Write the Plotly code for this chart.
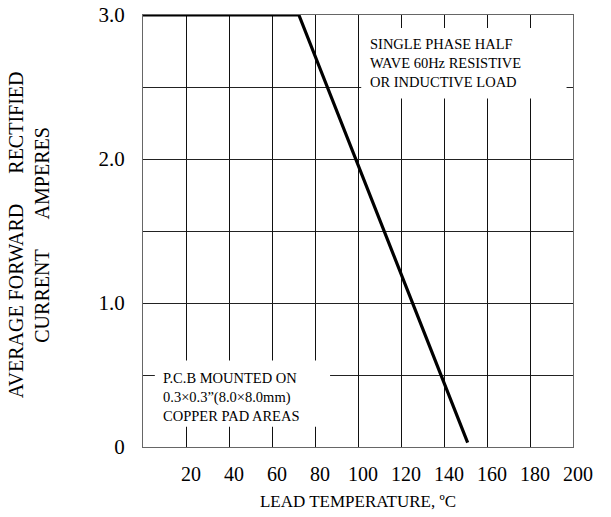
import plotly.graph_objects as go

# Data
lead_temp_c = [0, 72.5, 151]
avg_current_a = [3.0, 3.0, 0.03]

x_tick_vals = [20, 40, 60, 80, 100, 120, 140, 160, 180, 200]
x_tick_text = ["20", "40", "60", "80", "100", "120", "140", "160", "180", "200"]
y_tick_vals = [0, 1, 2, 3]
y_tick_text = ["0", "1.0", "2.0", "3.0"]

note_top = "SINGLE PHASE HALF<br>WAVE 60Hz RESISTIVE<br>OR INDUCTIVE LOAD"
note_bottom = "P.C.B MOUNTED ON<br>0.3×0.3”(8.0×8.0mm)<br>COPPER PAD AREAS"
x_title = "LEAD TEMPERATURE, ºC"
gap = "\u00a0" * 6
y_title = "AVERAGE FORWARD" + gap + "RECTIFIED<br>CURRENT" + gap + "AMPERES"

FONT = "Liberation Serif"

fig = go.Figure()
fig.add_trace(go.Scatter(
    x=lead_temp_c, y=avg_current_a, mode="lines",
    line=dict(color="black", width=3.2), showlegend=False, hoverinfo="skip",
))

fig.update_layout(
    width=611, height=517,
    margin=dict(l=143, r=38, t=15, b=70),
    paper_bgcolor="white", plot_bgcolor="white",
    font=dict(family=FONT, color="black"),
    showlegend=False,
)

fig.update_xaxes(
    range=[0, 200], tickvals=x_tick_vals, ticktext=x_tick_text,
    showgrid=True, gridcolor="#111", gridwidth=1,
    showline=True, linecolor="#666", linewidth=1.3, mirror=True,
    ticks="outside", ticklen=9, tickcolor="rgba(0,0,0,0)",
    tickfont=dict(family=FONT, size=20), ticklabelshift=5,
    zeroline=False, automargin=False,
    title=dict(text=x_title, font=dict(family=FONT, size=17), standoff=10),
)
fig.update_yaxes(
    range=[0, 3], tickvals=y_tick_vals, ticktext=y_tick_text,
    showgrid=True, gridcolor="#222", gridwidth=1,
    minor=dict(dtick=0.5, showgrid=True, gridcolor="#222", gridwidth=1),
    showline=True, linecolor="#666", linewidth=1.3, mirror=True,
    ticks="outside", ticklen=13, tickcolor="rgba(0,0,0,0)",
    tickfont=dict(family=FONT, size=21),
    zeroline=False, automargin=False,
)

# white panels behind the notes (cover gridlines, stay under the curve)
fig.add_shape(type="rect", xref="x", yref="y", x0=101.5, x1=197, y0=2.42, y1=2.91,
              fillcolor="white", line=dict(width=0), layer="between")
fig.add_shape(type="rect", xref="x", yref="y", x0=5.5, x1=87, y0=0.14, y1=0.60,
              fillcolor="white", line=dict(width=0), layer="between")

fig.add_annotation(
    text=y_title, xref="paper", yref="paper", x=-0.265, y=0.49,
    textangle=-90, showarrow=False, align="center",
    font=dict(family=FONT, size=20), xanchor="center", yanchor="middle",
)
fig.add_annotation(
    text=note_top, xref="x", yref="y", x=104.5, y=2.67,
    xanchor="left", yanchor="middle", align="left", showarrow=False,
    font=dict(family=FONT, size=14.5),
)
fig.add_annotation(
    text=note_bottom, xref="x", yref="y", x=8.5, y=0.35,
    xanchor="left", yanchor="middle", align="left", showarrow=False,
    font=dict(family=FONT, size=14.5),
)

fig.write_html("out.html", config={"displayModeBar": False},
               post_script="document.body.style.margin='0';")
